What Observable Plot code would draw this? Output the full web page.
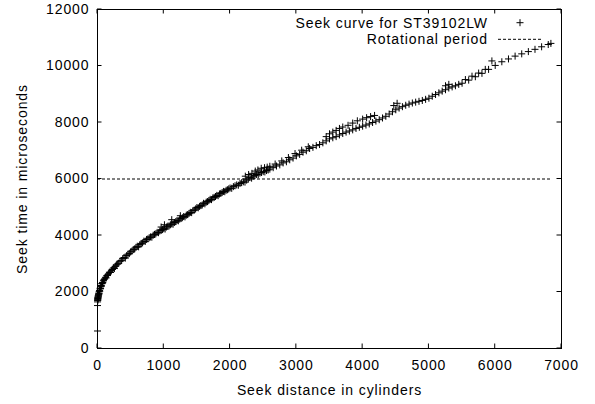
<!DOCTYPE html>
<html><head><meta charset="utf-8">
<script src="https://cdn.jsdelivr.net/npm/d3@7"></script>
<script src="https://cdn.jsdelivr.net/npm/@observablehq/plot@0.6"></script>
<style>
body{margin:0;background:#fff}
#chart svg text{letter-spacing:0.9px}
</style>
</head><body><div id="chart"></div>
<script>
// Seek distance (cylinders) of each measured point
const distances = [
0,0,1,2,3,4,5,6,8,10,12,14,16,18,20,23,26,30,34,38,42,46,50,55,60,65,70,75,80,90,
100,110,120,130,140,150,165,180,195,210,225,240,255,270,285,300,320,340,360,380,
400,420,440,460,480,500,520,540,560,580,600,620,640,660,680,700,720,740,760,780,
800,820,840,860,880,900,920,940,960,980,1000,1020,1040,1060,1080,1100,1120,1140,1160,1180,
1200,1220,1240,1260,1280,1300,1320,1340,1360,1380,1400,1420,1440,1460,1480,1500,1520,1540,1560,1580,
1600,1620,1640,1660,1680,1700,1720,1740,1760,1780,1800,1820,1840,1860,1880,1900,1920,1940,1960,1980,
2000,2025,2050,2075,2100,2125,2150,2175,2200,2225,2250,2275,2300,2325,2350,2375,2400,2425,2450,2475,
2500,2525,2550,2575,2600,2650,2700,2750,2800,2850,2900,2950,3000,3050,3100,3150,3200,3250,3300,3350,
3400,3450,3500,3550,3600,3650,3700,3750,3800,3850,3900,3950,4000,4050,4100,4150,4200,4250,4300,4350,
4400,4450,4500,4550,4600,4650,4700,4750,4800,4850,4900,4950,5000,5050,5100,5150,5200,5250,5300,5350,
5400,5450,5500,5600,5700,5800,5900,6000,6100,6200,6300,6400,6500,6600,6700,6800,6840,
960,1010,1120,1250,2230,2280,2330,2380,2420,2470,2520,2560,2600,2680,2780,2880,2980,3080,3180,
3450,3500,3550,3600,3650,3700,3780,3850,3920,4000,4060,4120,4180,4470,4520,
5250,5300,5550,5650,5750,5850,5950
];
// Seek time (microseconds) of each measured point
const seekTimes = [
620,1520,1650,1700,1740,1770,1720,1800,1830,1790,1880,1850,1920,1900,1960,1940,2010,2050,2030,2110,2140,2120,2190,2230,2210,2290,2300,2340,2330,2400,
2440,2470,2520,2500,2580,2600,2640,2700,2690,2770,2800,2850,2830,2910,2960,2990,3020,3090,3110,3180,
3220,3200,3290,3340,3360,3420,3450,3500,3520,3580,3620,3600,3680,3720,3740,3800,3790,3860,3880,3920,
3950,3940,4010,4040,4060,4110,4100,4160,4180,4210,4240,4230,4300,4330,4340,4380,4410,4400,4460,4490,
4530,4520,4580,4600,4630,4670,4660,4720,4740,4780,4820,4810,4880,4900,4940,4990,4980,5030,5060,5080,
5140,5120,5180,5200,5240,5280,5270,5330,5350,5380,5420,5410,5470,5490,5520,5560,5550,5600,5620,5650,
5680,5670,5730,5760,5790,5780,5840,5870,5900,5890,5960,6000,6050,6030,6100,6120,6160,6150,6210,6230,
6260,6250,6300,6320,6350,6400,6460,6500,6570,6610,6680,6740,6820,6870,6950,7000,7080,7120,7180,7220,
7280,7350,7420,7460,7500,7560,7610,7660,7700,7740,7790,7830,7870,7910,7950,8000,8050,8100,8160,8220,
8300,8380,8450,8510,8560,8610,8650,8690,8720,8750,8780,8820,8860,8930,8990,9050,9110,9160,9220,9260,
9300,9350,9390,9500,9620,9740,9880,10020,10150,10250,10350,10430,10510,10590,10680,10760,10800,
4300,4380,4560,4700,6100,6160,6200,6280,6320,6380,6400,6420,6450,6530,6640,6760,6900,7020,7140,
7500,7600,7660,7720,7790,7840,7900,7980,8060,8120,8170,8210,8250,8600,8680,
9300,9350,9520,9640,9750,9880,10180
];
const rotationalPeriod = 6000;
const xTicks = [0, 1000, 2000, 3000, 4000, 5000, 6000, 7000];
const yTicks = [0, 2000, 4000, 6000, 8000, 10000, 12000];
const seriesLabels = ["Seek curve for ST39102LW", "Rotational period"];
const xLabel = "Seek distance in cylinders";
const yLabel = "Seek time in microseconds";

const points = distances.map((d, i) => ({distance: d, time: seekTimes[i]}));
const plusR = 2.4;
const tickLen = 4.5;

// inward tick marks on all four sides (gnuplot style), positioned through the scales
function innerTicks(index, scales, values, dims) {
  const g = d3.create("svg:g").attr("stroke", "black").attr("stroke-width", 1);
  const left = dims.marginLeft, right = dims.width - dims.marginRight;
  const top = dims.marginTop, bottom = dims.height - dims.marginBottom;
  for (const t of xTicks) {
    const px = scales.x(t);
    g.append("line").attr("x1", px).attr("x2", px).attr("y1", bottom).attr("y2", bottom - tickLen);
    g.append("line").attr("x1", px).attr("x2", px).attr("y1", top).attr("y2", top + tickLen);
  }
  for (const t of yTicks) {
    const py = scales.y(t);
    g.append("line").attr("y1", py).attr("y2", py).attr("x1", left).attr("x2", left + tickLen);
    g.append("line").attr("y1", py).attr("y2", py).attr("x1", right).attr("x2", right - tickLen);
  }
  return g.node();
}

function legend(index, scales, values, dims) {
  const g = d3.create("svg:g");
  const right = dims.width - dims.marginRight;
  const top = dims.marginTop;
  g.append("text").attr("x", right - 73).attr("y", top + 18.5)
    .attr("text-anchor", "end").attr("fill", "black").text(seriesLabels[0]);
  g.append("text").attr("x", right - 73).attr("y", top + 34.5)
    .attr("text-anchor", "end").attr("fill", "black").text(seriesLabels[1]);
  g.append("path").attr("transform", `translate(${right - 41},${top + 13.7})`)
    .attr("d", d3.symbol(d3.symbolPlus, Math.PI * plusR * plusR)())
    .attr("fill", "none").attr("stroke", "black").attr("stroke-width", 1);
  g.append("line").attr("x1", right - 63).attr("x2", right - 19)
    .attr("y1", top + 30.3).attr("y2", top + 30.3)
    .attr("stroke", "black").attr("stroke-dasharray", "3,2");
  return g.node();
}

const chart = Plot.plot({
  width: 595,
  height: 404,
  marginLeft: 97,
  marginRight: 34,
  marginTop: 9,
  marginBottom: 56,
  style: {fontSize: "14px", fontFamily: "'Liberation Sans', Arial, sans-serif", color: "black", background: "white"},
  x: {domain: [0, 7000]},
  y: {domain: [0, 12000]},
  marks: [
    Plot.axisX(xTicks, {anchor: "bottom", tickSize: 0, tickPadding: 12, tickFormat: d => String(d), label: null}),
    Plot.axisY(yTicks, {anchor: "left", tickSize: 0, tickPadding: 8, tickFormat: d => String(d), label: null}),
    innerTicks,
    Plot.ruleY([rotationalPeriod], {x1: 0, x2: d3.max(distances), stroke: "black", strokeWidth: 1, strokeDasharray: "3,2"}),
    Plot.dot(points, {x: "distance", y: "time", symbol: "plus", r: plusR, stroke: "black", strokeWidth: 1}),
    Plot.frame({stroke: "black", strokeWidth: 1}),
    Plot.text([xLabel], {text: d => d, frameAnchor: "bottom", dy: 42, lineAnchor: "middle", textAnchor: "middle", fill: "black"}),
    Plot.text([yLabel], {text: d => d, frameAnchor: "left", dx: -74.5, rotate: -90, lineAnchor: "middle", textAnchor: "middle", fill: "black"}),
    legend
  ]
});
document.getElementById("chart").append(chart);
</script>
</body></html>
